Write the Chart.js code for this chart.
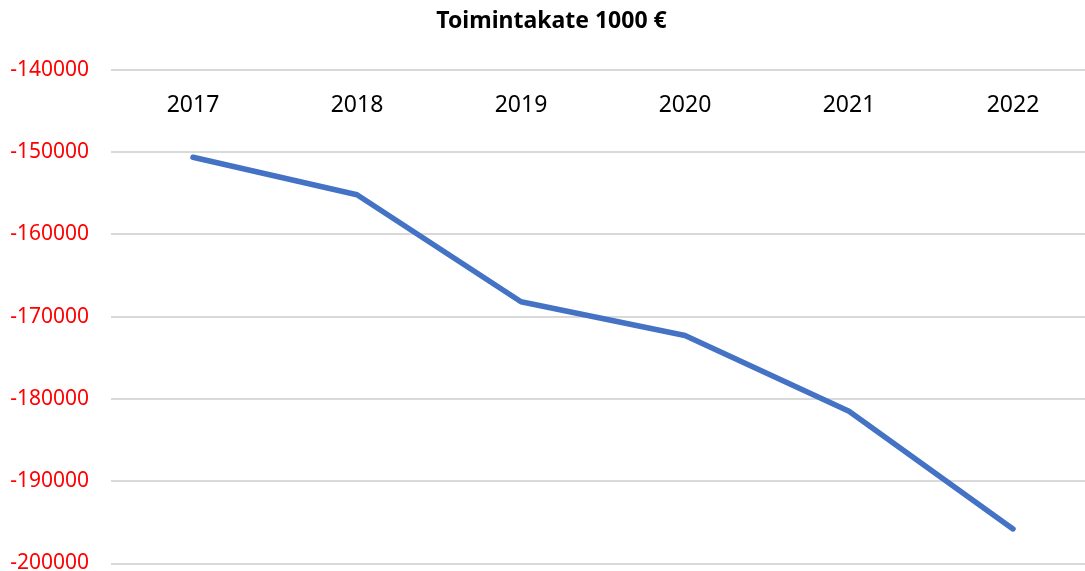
<!DOCTYPE html>
<html>
<head>
<meta charset="utf-8">
<script src="https://cdn.jsdelivr.net/npm/chart.js@4/dist/chart.umd.min.js"></script>
<style>
  html, body { margin: 0; padding: 0; background: #fff; overflow: hidden; }
  #wrap { width: 1095px; height: 571px; }
</style>
</head>
<body>
<div id="wrap"><canvas id="chart" width="1095" height="571"></canvas></div>
<script>
// data
var years = ['2017', '2018', '2019', '2020', '2021', '2022'];
var toimintakate = [-150650, -155200, -168200, -172300, -181500, -195800];
var yMin = -200000;
var yMax = -140000;
var yStep = 10000;

var font = "'Noto Sans', 'Open Sans', sans-serif";

new Chart(document.getElementById('chart'), {
    type: 'line',
    data: {
        labels: years,
        datasets: [{
            label: 'Toimintakate 1000 €',
            data: toimintakate,
            borderColor: '#4472C4',
            backgroundColor: '#4472C4',
            borderWidth: 5.5,
            borderCapStyle: 'round',
            borderJoinStyle: 'round',
            pointRadius: 0,
            tension: 0,
        }]
    },
    options: {
        responsive: false,
        animation: false,
        layout: {
            padding: { left: 8, right: 0, top: 0, bottom: 0 }
        },
        plugins: {
            legend: { display: false },
            tooltip: { enabled: false },
            title: {
                display: true,
                text: 'Toimintakate 1000 €',
                color: '#000',
                font: { family: font, size: 23, weight: 'bold' },
                padding: { top: 8, bottom: 34 },
            },
        },
        scales: {
            x: {
                type: 'category',
                position: { y: yMax },
                offset: true,
                afterFit: function (s) { s.height = 0; },
                grid: { display: false },
                border: { display: false },
                ticks: {
                    color: '#000',
                    padding: 14,
                    font: { family: font, size: 23 },
                },
            },
            y: {
                min: yMin,
                max: yMax,
                afterFit: function (s) {
                    s.width = 103;
                    s.paddingTop = 9;
                    s.paddingBottom = 7.5;
                },
                grid: { color: '#d9d9d9', lineWidth: 2, drawTicks: false },
                border: { display: false },
                ticks: {
                    stepSize: yStep,
                    color: '#ff0000',
                    padding: 22,
                    font: { family: font, size: 21, lineHeight: 0.9 },
                    callback: function (v) { return String(v); },
                },
            },
        },
    }
});
</script>
</body>
</html>
